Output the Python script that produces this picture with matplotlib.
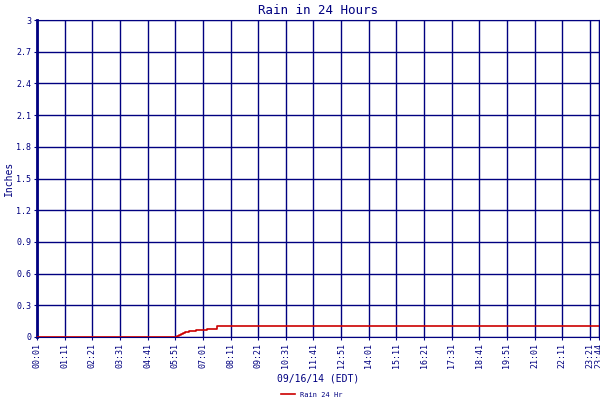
import matplotlib
matplotlib.use("Agg")
import matplotlib.pyplot as plt

navy = "#000080"
tick_min = [1 + 70 * i for i in range(21)] + [1424]
tick_labels = ["00:01","01:11","02:21","03:31","04:41","05:51","07:01","08:11","09:21","10:31",
               "11:41","12:51","14:01","15:11","16:21","17:31","18:41","19:51","21:01","22:11","23:21","23:44"]
t = [1, 353, 356, 361, 366, 371, 376, 385, 403, 431, 457, 1424]
rain = [0, 0, 0.01, 0.02, 0.03, 0.04, 0.05, 0.06, 0.07, 0.08, 0.10, 0.10]
yticks = [0, 0.3, 0.6, 0.9, 1.2, 1.5, 1.8, 2.1, 2.4, 2.7, 3]
ylabels = ["0","0.3","0.6","0.9","1.2","1.5","1.8","2.1","2.4","2.7","3"]

plt.rcParams['font.family'] = ['DejaVu Sans Mono']
fig = plt.figure(figsize=(6, 4), dpi=100)
ax = fig.add_axes([37/600, 1-337/400, 562/600, 317/400])
ax.plot(t, rain, color="#cc0000", lw=1.2, drawstyle="steps-post", label="Rain 24 Hr", zorder=3)
ax.set_xlim(1, 1424)
ax.set_ylim(0, 3)
ax.set_xticks(tick_min)
ax.set_xticklabels(tick_labels, rotation=90, fontsize=6, color=navy)
ax.set_yticks(yticks)
ax.set_yticklabels(ylabels, fontsize=6, color=navy)
ax.tick_params(length=2, color=navy, pad=2)
ax.grid(True, color=navy, lw=1)
for s in ax.spines.values():
    s.set_color(navy)
ax.spines['left'].set_linewidth(2)
ax.set_title("Rain in 24 Hours", color=navy, fontsize=9, pad=4)
ax.set_ylabel("Inches", color=navy, fontsize=7, labelpad=2)
ax.set_xlabel("09/16/14 (EDT)", color=navy, fontsize=7, labelpad=4)
fig.legend(loc="lower center", bbox_to_anchor=(0.52, -0.01), fontsize=5, frameon=False,
           handlelength=2, labelcolor=navy)
fig.savefig("out.png", dpi=100)
